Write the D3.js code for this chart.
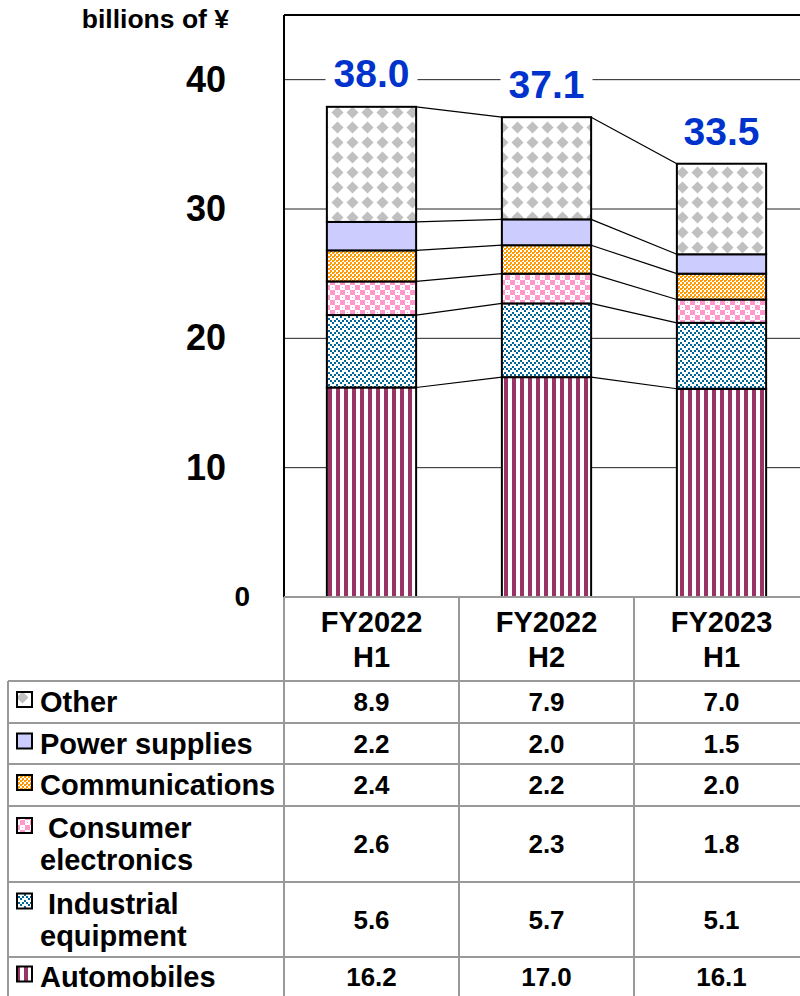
<!DOCTYPE html>
<html>
<head>
<meta charset="utf-8">
<script src="https://cdn.jsdelivr.net/npm/d3@7"></script>
<style>
  body { margin: 0; background: #fff; }
  svg { display: block; font-family: "Liberation Sans", Arial, sans-serif; font-weight: bold; }
</style>
</head>
<body>
<svg id="chart" width="800" height="996"></svg>
<script>
// data
const categories = ["FY2022 H1", "FY2022 H2", "FY2023 H1"];
const categoryLines = [["FY2022", "H1"], ["FY2022", "H2"], ["FY2023", "H1"]];
const automobiles = [16.2, 17.0, 16.1];
const industrial = [5.6, 5.7, 5.1];
const consumer = [2.6, 2.3, 1.8];
const communications = [2.4, 2.2, 2.0];
const power = [2.2, 2.0, 1.5];
const other = [8.9, 7.9, 7.0];
const totals = [38.0, 37.1, 33.5];
const yTicks = [0, 10, 20, 30, 40];

// bottom to top
const series = [
  {key: "auto", values: automobiles, label: ["Automobiles"]},
  {key: "ind", values: industrial, label: [" Industrial", "equipment"]},
  {key: "cons", values: consumer, label: [" Consumer", "electronics"]},
  {key: "comm", values: communications, label: ["Communications"]},
  {key: "pow", values: power, label: ["Power supplies"]},
  {key: "oth", values: other, label: ["Other"]}
];

const svg = d3.select("#chart");
const plotLeft = 284, plotRight = 809, plotTop = 15, plotBottom = 597;

const x = d3.scaleBand().domain(categories).range([plotLeft, plotRight])
  .paddingInner(0.49).paddingOuter(0.245);
const col = d3.scaleBand().domain(categories).range([plotLeft, plotRight]);
const y = d3.scaleLinear().domain([0, 45]).range([plotBottom, plotTop]);

// patterns
const defs = svg.append("defs");
const pat = (id, w, h) => {
  const p = defs.append("pattern").attr("id", id).attr("patternUnits", "userSpaceOnUse")
    .attr("width", w).attr("height", h);
  p.append("rect").attr("width", w).attr("height", h).attr("fill", "#fff");
  return p;
};
const dots = (p, pts, s, color) => pts.forEach(([px, py]) =>
  p.append("rect").attr("x", px).attr("y", py).attr("width", s).attr("height", s).attr("fill", color));

const pa = pat("p-auto", 8, 8);
pa.append("rect").attr("x", 0).attr("width", 4).attr("height", 8).attr("fill", "#993366");

const pi = pat("p-ind", 8, 6);
dots(pi, [[0, 0], [2, 2], [4, 4], [6, 2]], 2, "#006699");

const pc = pat("p-cons", 10, 10);
dots(pc, [[0, 0], [5, 5]], 5, "#ff99cc");
dots(pc, [[7, 2], [2, 7]], 1, "#ff99cc");

const pm = pat("p-comm", 4, 4);
dots(pm, [[0, 0], [2, 2]], 2, "#ff9900");
dots(pm, [[2, 0]], 1, "#ff9900");

const pp = pat("p-pow", 4, 4);
pp.select("rect").attr("fill", "#ccccff");

const po = pat("p-oth", 15, 15);
po.append("path").attr("d", "M7.5,1.5 L13.5,7.5 L7.5,13.5 L1.5,7.5 Z").attr("fill", "#c0c0c0");

const fills = {auto: "url(#p-auto)", ind: "url(#p-ind)", cons: "url(#p-cons)",
  comm: "url(#p-comm)", pow: "url(#p-pow)", oth: "url(#p-oth)"};

// gridlines
svg.append("g").selectAll("line").data(yTicks.filter(d => d > 0)).join("line")
  .attr("x1", plotLeft).attr("x2", 800).attr("y1", d => y(d)).attr("y2", d => y(d))
  .attr("stroke", "#222").attr("stroke-width", 1);

// stack
const rows = categories.map((c, i) => {
  const r = {cat: c};
  series.forEach(s => r[s.key] = s.values[i]);
  return r;
});
const stacked = d3.stack().keys(series.map(s => s.key))(rows);

// connector lines between bars
const conn = svg.append("g");
stacked.forEach((layer, li) => {
  const edges = li === 0 ? [0, 1] : [1];
  edges.forEach(e => {
    for (let i = 0; i < categories.length - 1; i++) {
      conn.append("line")
        .attr("x1", x(categories[i]) + x.bandwidth()).attr("y1", y(layer[i][e]))
        .attr("x2", x(categories[i + 1])).attr("y2", y(layer[i + 1][e]))
        .attr("stroke", "#000").attr("stroke-width", 1.2);
    }
  });
});

// bars
svg.append("g").selectAll("g").data(stacked).join("g")
  .attr("fill", d => fills[d.key])
  .selectAll("rect").data(d => d).join("rect")
  .attr("x", d => x(d.data.cat)).attr("width", x.bandwidth())
  .attr("y", d => y(d[1])).attr("height", d => y(d[0]) - y(d[1]))
  .attr("stroke", "#000").attr("stroke-width", 2);

// totals
const tot = svg.append("g").selectAll("g").data(categories).join("g")
  .attr("transform", (c, i) => `translate(${x(c) + x.bandwidth() / 2},${y(totals[i]) - 19})`);
tot.append("rect").attr("x", -46).attr("y", -37).attr("width", 92).attr("height", 46)
  .attr("rx", 14).attr("fill", "#fff");
tot.append("text").attr("text-anchor", "middle").attr("font-size", 39).attr("fill", "#0033cc")
  .text((c, i) => totals[i].toFixed(1));

// frame
svg.append("line").attr("x1", plotLeft).attr("x2", 800).attr("y1", plotTop).attr("y2", plotTop)
  .attr("stroke", "#000").attr("stroke-width", 2);
svg.append("line").attr("x1", plotLeft).attr("x2", plotLeft).attr("y1", plotTop).attr("y2", plotBottom)
  .attr("stroke", "#000").attr("stroke-width", 2);

// y axis
const yAxis = svg.append("g").attr("transform", `translate(${plotLeft},0)`)
  .call(d3.axisLeft(y).tickValues(yTicks).tickSize(0).tickPadding(58));
yAxis.select(".domain").remove();
yAxis.selectAll("text").attr("font-size", d => d === 0 ? 28 : 36)
  .attr("font-family", "Liberation Sans, Arial, sans-serif").attr("font-weight", "bold")
  .attr("fill", "#000").attr("dx", d => d === 0 ? 24 : 0);
svg.append("text").attr("x", 229).attr("y", 28).attr("text-anchor", "end")
  .attr("font-size", 26.5).text("billions of ¥");

// table
const rowLines = [plotBottom, 681, 723, 764, 806, 882, 957];
const tbl = svg.append("g").attr("stroke", "#999").attr("stroke-width", 2);
rowLines.forEach((ry, k) => {
  tbl.append("line").attr("x1", k === 0 ? plotLeft : 8).attr("x2", 800).attr("y1", ry).attr("y2", ry);
});
tbl.append("line").attr("x1", 8).attr("x2", 8).attr("y1", 681).attr("y2", 996);
categories.forEach(c => {
  tbl.append("line").attr("x1", col(c)).attr("x2", col(c)).attr("y1", plotBottom).attr("y2", 996);
});

// header
const hdr = svg.append("g").selectAll("text").data(categories).join("text")
  .attr("text-anchor", "middle").attr("font-size", 29)
  .attr("x", c => col(c) + col.bandwidth() / 2);
hdr.append("tspan").attr("x", c => col(c) + col.bandwidth() / 2).attr("y", 632)
  .text((c, i) => categoryLines[i][0]);
hdr.append("tspan").attr("x", c => col(c) + col.bandwidth() / 2).attr("y", 667)
  .text((c, i) => categoryLines[i][1]);

// body rows, top to bottom
const bodyRows = series.slice().reverse();
bodyRows.forEach((s, r) => {
  const y0 = rowLines[r + 1], y1 = r + 2 < rowLines.length ? rowLines[r + 2] : 996;
  const mid = (y0 + y1) / 2;
  const lines = s.label;
  const firstY = lines.length === 1 ? mid + 10 : mid - 6;
  svg.append("rect").attr("x", 17).attr("y", firstY - 20).attr("width", 15).attr("height", 15)
    .attr("fill", fills[s.key]).attr("stroke", "#000").attr("stroke-width", 2);
  const t = svg.append("text").attr("font-size", 29).attr("xml:space", "preserve");
  lines.forEach((ln, k) => {
    t.append("tspan").attr("x", 40).attr("y", firstY + k * 32).text(ln);
  });
  svg.append("g").selectAll("text").data(categories).join("text")
    .attr("text-anchor", "middle").attr("font-size", 26)
    .attr("x", c => col(c) + col.bandwidth() / 2).attr("y", mid + 9)
    .text((c, i) => s.values[i].toFixed(1));
});
</script>
</body>
</html>
